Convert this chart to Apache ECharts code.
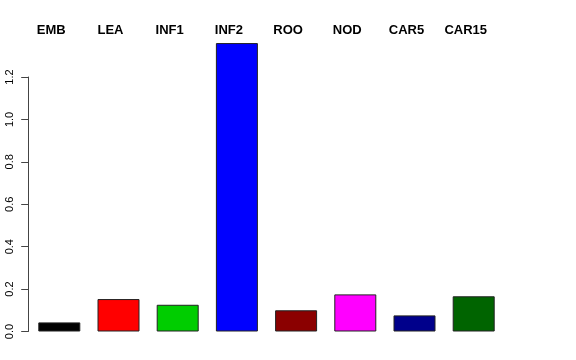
<!DOCTYPE html>
<html>
<head>
<meta charset="utf-8">
<script src="https://cdn.jsdelivr.net/npm/echarts@6/dist/echarts.min.js"></script>
<style>html,body{margin:0;padding:0;background:#fff}#c{width:576px;height:360px}</style>
</head>
<body>
<div id="c"></div>
<script>
const categories = ["EMB", "LEA", "INF1", "INF2", "ROO", "NOD", "CAR5", "CAR15"];
const values = [0.043, 0.153, 0.126, 1.36, 0.10, 0.175, 0.076, 0.166];
const colors = ["#000000", "#FF0000", "#00CD00", "#0000FF", "#8B0000", "#FF00FF", "#00008B", "#006400"];
const yTicks = [0, 0.2, 0.4, 0.6, 0.8, 1.0, 1.2];

const chart = echarts.init(document.getElementById('c'), null, {renderer: 'canvas'});
chart.setOption({
  animation: false,
  backgroundColor: '#ffffff',
  grid: {left: 29.7, right: 72.7, top: 77, bottom: 28.5, containLabel: false},
  xAxis: [
    {type: 'category', data: categories, position: 'bottom', show: false},
    {type: 'category', data: categories, position: 'top',
     axisLine: {show: false}, axisTick: {show: false},
     axisLabel: {show: true, interval: 0, margin: 40, color: '#000',
       fontFamily: 'Liberation Sans', fontWeight: 'bold', fontSize: 13,
       padding: [0, 16, 0, 0]}}
  ],
  yAxis: {
    type: 'value', min: 0, max: 1.2, interval: 0.2, offset: 1.5,
    axisLine: {show: true, lineStyle: {color: '#444', width: 1}},
    axisTick: {show: true, length: 7, lineStyle: {color: '#444'}},
    splitLine: {show: false},
    axisLabel: {rotate: 90, margin: 13, color: '#000', fontFamily: 'Liberation Sans', fontSize: 11,
      formatter: v => v.toFixed(1)}
  },
  series: [{
    type: 'bar', xAxisIndex: 0, clip: false, barWidth: 42,
    data: values.map((v, i) => ({value: v, itemStyle: {color: colors[i]}})),
    itemStyle: {borderColor: '#222', borderWidth: 1}
  }]
});
</script>
</body>
</html>
